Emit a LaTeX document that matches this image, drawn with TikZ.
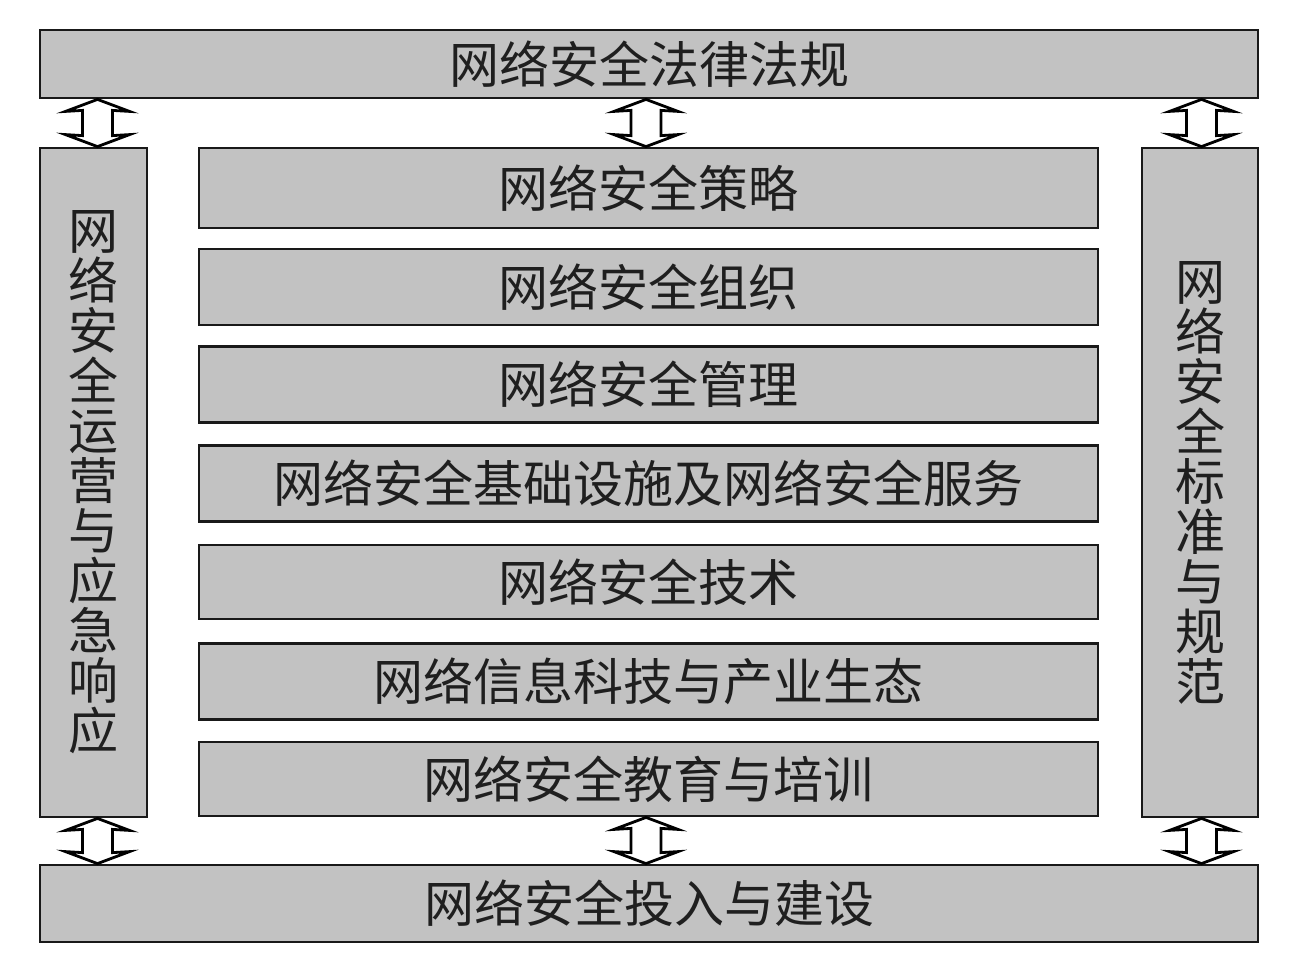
\documentclass[tikz,border=0pt]{standalone}
\usepackage{fontspec}
\newfontfamily\cjk{Noto Sans CJK SC}
\usetikzlibrary{calc}
\tikzset{
  box/.style={draw=black!90, line width=2.8pt, fill=black!24, rectangle, inner sep=0pt,
    text=black!88, font=\cjk\fontsize{50}{50}\selectfont},
  hbox/.style={box, minimum width=899pt, minimum height=76pt},
  vbox/.style={box, minimum height=669pt, align=center},
  arrowbox/.style={draw=black, line width=2.8pt, fill=white, line join=miter}
}
\newcommand\dblarrow[2]{%
  \path let \p1=(#1), \p2=(#2) in [arrowbox]
   (\x1,\y1) -- (\x1+32pt,\y1-12pt) -- (\x1+15pt,\y1-11pt) -- (\x1+15pt,\y2+11pt)
   -- (\x1+32pt,\y2+12pt) -- (\x1,\y2) -- (\x1-32pt,\y2+12pt) -- (\x1-15pt,\y2+11pt)
   -- (\x1-15pt,\y1-11pt) -- (\x1-32pt,\y1-12pt) -- cycle;}
\begin{document}
\begin{tikzpicture}[x=1pt,y=-1pt]
\useasboundingbox[fill=white] (0,0) rectangle (1299,970);
% outer frame
\node[box, minimum width=1218pt, minimum height=68pt] (top) at (649,64) {网络安全法律法规};
\node[box, minimum width=1218pt, minimum height=77pt] (bot) at (649,903.5) {网络安全投入与建设};
\node[vbox, minimum width=107pt] (lft) at (93.5,482.5)
  {网\\络\\安\\全\\运\\营\\与\\应\\急\\响\\应};
\node[vbox, minimum width=116pt] (rgt) at (1200,482.5)
  {网\\络\\安\\全\\标\\准\\与\\规\\范};
% middle layers
\node[hbox, minimum height=80pt] (m1) at (648.5,188) {网络安全策略};
\node[hbox] (m2) at (648.5,287) {网络安全组织};
\node[hbox] (m3) at (648.5,384.5) {网络安全管理};
\node[hbox] (m4) at (648.5,483.5) {网络安全基础设施及网络安全服务};
\node[hbox, minimum height=74pt] (m5) at (648.5,582) {网络安全技术};
\node[hbox] (m6) at (648.5,681.5) {网络信息科技与产业生态};
\node[hbox, minimum height=74pt] (m7) at (648.5,779) {网络安全教育与培训};
% arrow columns
\coordinate (xl) at (97.5,0);
\coordinate (xc) at (646,0);
\coordinate (xr) at (1201.5,0);
\dblarrow{top.south -| xl}{lft.north}
\dblarrow{top.south -| xc}{m1.north}
\dblarrow{top.south -| xr}{rgt.north}
\dblarrow{lft.south -| xl}{bot.north}
\dblarrow{m7.south -| xc}{bot.north}
\dblarrow{rgt.south -| xr}{bot.north}
\end{tikzpicture}
\end{document}
